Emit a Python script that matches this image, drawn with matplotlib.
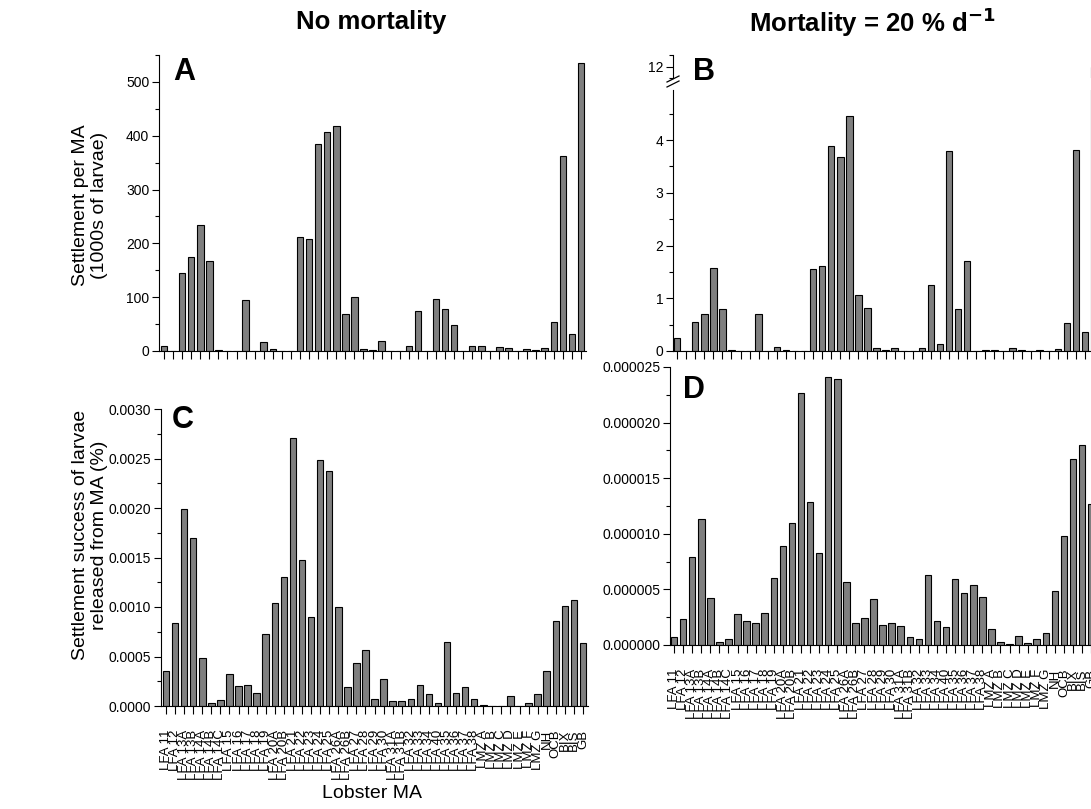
import numpy as np
import matplotlib
matplotlib.use("Agg")
import matplotlib.pyplot as plt
from matplotlib.ticker import MultipleLocator, FormatStrFormatter
from matplotlib.lines import Line2D

plt.rcParams['font.family'] = ['Liberation Sans', 'DejaVu Sans']

# Lobster management areas (x categories)
areas = ['LFA 11', 'LFA 12', 'LFA 13A', 'LFA 13B', 'LFA 14A', 'LFA 14B', 'LFA 14C',
         'LFA 15', 'LFA 16', 'LFA 17', 'LFA 18', 'LFA 19', 'LFA 20A', 'LFA 20B',
         'LFA 21', 'LFA 22', 'LFA 23', 'LFA 24', 'LFA 25', 'LFA 26A', 'LFA 26B',
         'LFA 27', 'LFA 28', 'LFA 29', 'LFA 30', 'LFA 31A', 'LFA 31B', 'LFA 32',
         'LFA 33', 'LFA 34', 'LFA 40', 'LFA 35', 'LFA 36', 'LFA 37', 'LFA 38',
         'LMZ A', 'LMZ B', 'LMZ C', 'LMZ D', 'LMZ E', 'LMZ F', 'LMZ G',
         'NH', 'OCB', 'BIX', 'BIS', 'GB']

# A: settlement per MA, no mortality (1000s of larvae)
settle_nomort = [9, 0, 145, 174, 235, 168, 2, 0, 0, 95, 0, 16, 4, 0, 0, 211,
                 208, 385, 407, 418, 69, 100, 4, 2, 19, 0, 0, 9, 74, 0, 96, 78,
                 48, 0, 9, 9, 0, 7, 6, 0, 3, 1, 5, 54, 362, 32, 535]

# B: settlement per MA, mortality 20 %/d
settle_mort = [0.25, 0, 0.55, 0.71, 1.58, 0.79, 0.01, 0, 0, 0.71, 0, 0.07, 0.025,
               0, 0, 1.56, 1.62, 3.89, 3.67, 4.45, 1.07, 0.82, 0.05, 0.01, 0.06,
               0.005, 0, 0.05, 1.25, 0.13, 3.8, 0.8, 1.71, 0, 0.01, 0.01, 0, 0.06,
               0.025, 0.005, 0.025, 0, 0.04, 0.53, 3.82, 0.36, 12.0]

# C: settlement success of released larvae (%), no mortality
success_nomort = [0.00035, 0.00084, 0.00199, 0.00170, 0.00048, 0.00003, 0.00006,
                  0.00032, 0.00020, 0.00021, 0.00013, 0.00073, 0.00104, 0.00130,
                  0.00271, 0.00147, 0.00090, 0.00248, 0.00237, 0.00100, 0.00019,
                  0.00043, 0.00057, 0.00007, 0.00027, 0.00005, 0.00005, 0.00007,
                  0.00021, 0.00012, 0.00003, 0.00065, 0.00013, 0.00019, 0.00007,
                  0.00001, 0.0, 0.0, 0.00010, 0.0, 0.00003, 0.00012, 0.00035,
                  0.00086, 0.00101, 0.00107, 0.00064]

# D: settlement success of released larvae (%), mortality 20 %/d
success_mort = [7e-7, 2.3e-6, 7.9e-6, 1.13e-5, 4.2e-6, 3e-7, 5e-7, 2.8e-6, 2.2e-6,
                2.0e-6, 2.9e-6, 6.0e-6, 8.9e-6, 1.10e-5, 2.27e-5, 1.29e-5, 8.3e-6,
                2.41e-5, 2.39e-5, 5.7e-6, 2.0e-6, 2.4e-6, 4.1e-6, 1.8e-6, 2.0e-6,
                1.7e-6, 7e-7, 5e-7, 6.3e-6, 2.2e-6, 1.6e-6, 5.9e-6, 4.7e-6, 5.4e-6,
                4.3e-6, 1.4e-6, 3e-7, 1e-7, 8e-7, 2e-7, 5e-7, 1.1e-6, 4.9e-6, 9.8e-6,
                1.67e-5, 1.80e-5, 1.27e-5]

W, H = 1091, 809
fig = plt.figure(figsize=(W / 100, H / 100), dpi=100)


def box(x0, y0, x1, y1):
    return [x0 / W, 1 - y1 / H, (x1 - x0) / W, (y1 - y0) / H]


x = np.arange(len(areas))
BAR = dict(width=0.72, color='#7f7f7f', edgecolor='black', linewidth=0.8)
UNIT = 9.066  # pixels per category


def style(ax, bottom=True):
    for s in ['top', 'right']:
        ax.spines[s].set_visible(False)
    ax.spines['bottom'].set_visible(bottom)
    ax.tick_params(axis='y', which='major', length=5, width=0.8, labelsize=10, pad=2)
    ax.tick_params(axis='y', which='minor', length=3, width=0.8)
    ax.tick_params(axis='x', length=6, width=0.8, labelsize=9.5, pad=11)
    ax.set_xticks(x)


def panel(x0, y0, y1, values, ylim, major, minor, fmt, labels=False, xl=-0.55):
    x1 = x0 + (len(areas) - xl - 0.45) * UNIT
    ax = fig.add_axes(box(x0, y0, x1, y1))
    ax.bar(x, values, **BAR)
    ax.set_xlim(xl, len(areas) - 0.45)
    ax.set_ylim(*ylim)
    ax.yaxis.set_major_locator(MultipleLocator(major))
    ax.yaxis.set_minor_locator(MultipleLocator(minor))
    ax.yaxis.set_major_formatter(FormatStrFormatter(fmt))
    style(ax)
    if labels:
        ax.set_xticklabels(areas, rotation=90)
    else:
        ax.set_xticklabels([])
    return ax


axA = panel(159, 55, 351, settle_nomort, (0, 550), 100, 50, '%d')
axC = panel(161, 409, 706, success_nomort, (0, 0.003), 0.0005, 0.00025, '%.4f', labels=True)
axD = panel(670, 367, 645, success_mort, (0, 0.000025), 0.000005, 0.0000025, '%.6f',
            labels=True, xl=-0.45)

# B with broken axis
axB = panel(673, 90, 351, settle_mort, (0, 4.95), 1, 0.5, '%d', xl=-0.45)
axB.spines['left'].set_bounds(0, 4.95)
x1B = 673 + len(areas) * UNIT
axB2 = fig.add_axes(box(673, 55, x1B, 78))
axB2.bar(x, settle_mort, **BAR)
axB2.set_xlim(-0.45, len(areas) - 0.45)
axB2.set_ylim(11.5, 12.5)
axB2.set_yticks([12])
axB2.yaxis.set_minor_locator(MultipleLocator(0.5))
style(axB2, bottom=False)
axB2.tick_params(axis='x', length=0, labelbottom=False)
axB2.set_facecolor('none')

# break marks
for yy in (79, 84):
    fig.add_artist(Line2D([667 / W, 679 / W], [1 - (yy + 3) / H, 1 - (yy - 3) / H],
                          color='black', lw=0.9))

# panel letters
for txt, px, py in [('A', 173, 57), ('B', 693, 57), ('C', 172, 405), ('D', 683, 375)]:
    fig.text(px / W, 1 - py / H, txt, fontsize=22, fontweight='bold', ha='left', va='top')

# column titles
fig.text(371 / W, 1 - 22 / H, 'No mortality', fontsize=18.5, fontweight='bold',
         ha='center', va='center')
fig.text(872 / W, 1 - 22 / H, 'Mortality = 20 % d$^{\\mathbf{-1}}$', fontsize=18.5,
         fontweight='bold', ha='center', va='center')

# axis labels
fig.text(90 / W, 1 - 205 / H, 'Settlement per MA\n(1000s of larvae)', fontsize=14,
         rotation=90, ha='center', va='center', multialignment='center')
fig.text(90 / W, 1 - 535 / H, 'Settlement success of larvae\nreleased from MA (%)',
         fontsize=14, rotation=90, ha='center', va='center', multialignment='center')
fig.text(372 / W, 1 - 793 / H, 'Lobster MA', fontsize=14, ha='center', va='center')

fig.savefig('out.png', dpi=100)
